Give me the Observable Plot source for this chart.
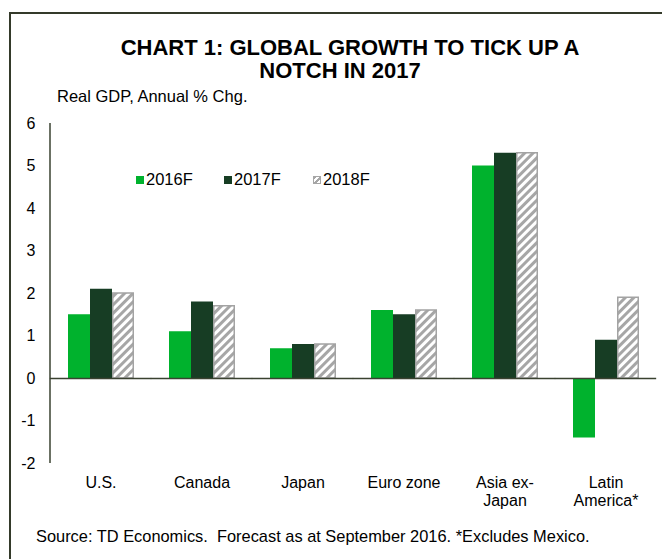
<!DOCTYPE html>
<html>
<head>
<meta charset="utf-8">
<script src="https://cdn.jsdelivr.net/npm/d3@7"></script>
<script src="https://cdn.jsdelivr.net/npm/@observablehq/plot@0.6"></script>
<style>
  html, body { margin: 0; padding: 0; width: 662px; height: 559px; overflow: hidden; background: #fff; }
  body { position: relative; font-family: "Liberation Sans", Arial, sans-serif; color: #000; }
  #border { position: absolute; left: 9px; top: 12px; width: 720px; height: 600px; border-left: 2px solid #343a2a; border-top: 2px solid #343a2a; }
  #chart { position: absolute; left: 0; top: 0; }
  .t { position: absolute; white-space: nowrap; }
  .title { font-weight: bold; font-size: 22px; transform: translateX(-50%); }
  .sw { position: absolute; width: 8px; height: 8px; }
  .leg { position: absolute; font-size: 16.5px; white-space: nowrap; }
</style>
</head>
<body>
<div id="border"></div>
<div id="chart"></div>
<div class="t title" style="left:350px; top:35px;">CHART 1: GLOBAL GROWTH TO TICK UP A</div>
<div class="t title" style="left:340px; top:58px;">NOTCH IN 2017</div>
<div class="t" style="left:57px; top:87px; font-size:16.5px;">Real GDP, Annual % Chg.</div>
<div id="legend"></div>
<div class="t" style="left:36px; top:527px; font-size:16.4px;">Source: TD Economics.&nbsp; Forecast as at September 2016. *Excludes Mexico.</div>
<script>
const categories = ["U.S.", "Canada", "Japan", "Euro zone", "Asia ex-Japan", "Latin America*"];
const categoryLabels = ["U.S.", "Canada", "Japan", "Euro zone", "Asia ex-\nJapan", "Latin\nAmerica*"];
const series = ["2016F", "2017F", "2018F"];
const values2016F = [1.5, 1.1, 0.7, 1.6, 5.0, -1.4];
const values2017F = [2.1, 1.8, 0.8, 1.5, 5.3, 0.9];
const values2018F = [2.0, 1.7, 0.8, 1.6, 5.3, 1.9];
const yTicks = [-2, -1, 0, 1, 2, 3, 4, 5, 6];

const seriesValues = [values2016F, values2017F, values2018F];
const data = [];
categories.forEach((c, i) => series.forEach((s, j) => data.push({category: c, series: s, value: seriesValues[j][i]})));

const green = "#00b22d", dark = "#173d24", hatchStroke = "#a3a3a3";
const labelOf = new Map(categories.map((c, i) => [c, categoryLabels[i]]));

const plot = Plot.plot({
  width: 662,
  height: 559,
  marginTop: 123,
  marginBottom: 96,
  marginLeft: 50,
  marginRight: 6,
  style: {fontFamily: "'Liberation Sans', Arial, sans-serif", fontSize: "16px", color: "#000", background: "transparent"},
  fx: {domain: categories, paddingInner: 0.34, paddingOuter: 0.17, label: null},
  x: {domain: series, padding: 0, axis: null},
  y: {domain: [-2, 6], ticks: yTicks, label: null},
  color: {domain: series, range: [green, dark, "url(#hatch)"]},
  marks: [
    Plot.axisFx({anchor: "bottom", tickSize: 0, tickPadding: 12, fontSize: 16, lineHeight: 1.1, tickFormat: d => labelOf.get(d), label: null}),
    Plot.axisY({ticks: yTicks, tickSize: 0, tickPadding: 32, fontSize: 16, label: null, tickFormat: d => String(d)}),
    Plot.barY(data.filter(d => d.series !== "2018F"), {fx: "category", x: "series", y: "value", fill: "series"}),
    Plot.barY(data.filter(d => d.series === "2018F"), {fx: "category", x: "series", y: "value", fill: "series", stroke: hatchStroke, strokeWidth: 1.5, insetLeft: 0.75, insetRight: 0.75}),
    Plot.ruleY([0], {stroke: "#3a4230", strokeWidth: 1.5, insetLeft: -17.17, insetRight: -17.17})
  ]
});

// hatch pattern definition
const ns = "http://www.w3.org/2000/svg";
const defs = document.createElementNS(ns, "defs");
defs.innerHTML = `<pattern id="hatch" patternUnits="userSpaceOnUse" width="6" height="6" patternTransform="rotate(45)">
  <rect width="6" height="6" fill="#ffffff"/><rect width="3" height="6" fill="#a6a6a6"/></pattern>`;
plot.insertBefore(defs, plot.firstChild);

// y axis line drawn along the y scale's range
const y = plot.scale("y");
const [y0, y1] = y.range;
const axisLine = document.createElementNS(ns, "line");
axisLine.setAttribute("x1", 50); axisLine.setAttribute("x2", 50);
axisLine.setAttribute("y1", y0); axisLine.setAttribute("y2", y1);
axisLine.setAttribute("stroke", "#3a4230"); axisLine.setAttribute("stroke-width", 1.5);
plot.appendChild(axisLine);

document.getElementById("chart").appendChild(plot);

// legend
const legend = document.getElementById("legend");
const legendPos = [136, 224, 313];
const swStyles = [
  `background:${green};`,
  `background:${dark};`,
  `background: repeating-linear-gradient(135deg, #a6a6a6 0 2px, #fff 2px 4px); border:1px solid #a6a6a6; box-sizing:border-box;`
];
series.forEach((s, i) => {
  const sw = document.createElement("div");
  sw.className = "sw";
  sw.style.cssText = `left:${legendPos[i]}px; top:176px; ` + swStyles[i];
  legend.appendChild(sw);
  const t = document.createElement("div");
  t.className = "leg";
  t.style.left = (legendPos[i] + 10) + "px";
  t.style.top = "170px";
  t.textContent = s;
  legend.appendChild(t);
});
</script>
</body>
</html>
